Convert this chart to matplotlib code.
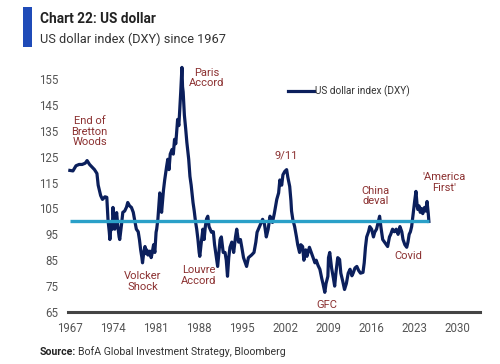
import matplotlib
matplotlib.use("Agg")
import matplotlib.pyplot as plt
from matplotlib.patches import Rectangle

plt.rcParams['font.family'] = ['Roboto', 'DejaVu Sans']

# ---- data ----
years = [
    1967.0, 1967.5, 1968.0, 1968.5, 1969.0, 1969.5, 1969.8, 1970.2, 1970.6, 1971.0,
    1971.4, 1971.6, 1971.8, 1972.0, 1972.3, 1972.7, 1973.0, 1973.2, 1973.4, 1973.5,
    1973.7, 1973.9, 1974.0, 1974.2, 1974.3, 1974.5, 1974.6, 1974.8, 1975.0, 1975.1,
    1975.3, 1975.4, 1975.6, 1975.9, 1976.2, 1976.4, 1976.7, 1977.0, 1977.3, 1977.5,
    1977.8, 1978.1, 1978.3, 1978.5, 1978.7, 1978.8, 1979.0, 1979.2, 1979.4, 1979.5,
    1979.7, 1980.0, 1980.2, 1980.3, 1980.6, 1980.8, 1981.0, 1981.1, 1981.3, 1981.5,
    1981.6, 1981.8, 1981.9, 1982.2, 1982.4, 1982.7, 1982.9, 1983.1, 1983.3, 1983.6,
    1983.8, 1984.0, 1984.2, 1984.5, 1984.7, 1985.0, 1985.2, 1985.3, 1985.4, 1985.6,
    1985.8, 1986.0, 1986.3, 1986.5, 1986.7, 1987.0, 1987.2, 1987.4, 1987.6, 1987.8,
    1988.0, 1988.1, 1988.3, 1988.5, 1988.6, 1988.8, 1989.0, 1989.2, 1989.4, 1989.6,
    1990.0, 1990.3, 1990.5, 1990.8, 1991.0, 1991.2, 1991.4, 1991.6, 1991.9, 1992.2,
    1992.4, 1992.6, 1992.8, 1993.0, 1993.3, 1993.6, 1993.9, 1994.1, 1994.4, 1994.7,
    1994.9, 1995.2, 1995.5, 1995.7, 1996.0, 1996.5, 1996.9, 1997.2, 1997.4, 1997.8,
    1998.0, 1998.3, 1998.6, 1998.9, 1999.2, 1999.5, 1999.7, 1999.9, 2000.2, 2000.6,
    2000.9, 2001.1, 2001.4, 2001.6, 2001.9, 2002.2, 2002.4, 2002.7, 2002.9, 2003.0,
    2003.2, 2003.5, 2003.8, 2004.0, 2004.3, 2004.5, 2004.8, 2005.0, 2005.3, 2005.5,
    2005.9, 2006.2, 2006.5, 2006.8, 2007.0, 2007.3, 2007.6, 2007.9, 2008.1, 2008.4,
    2008.6, 2008.9, 2009.0, 2009.2, 2009.5, 2009.8, 2010.0, 2010.2, 2010.5, 2010.8,
    2011.0, 2011.3, 2011.6, 2011.9, 2012.2, 2012.5, 2012.8, 2013.0, 2013.3, 2013.6,
    2013.9, 2014.2, 2014.6, 2014.8, 2015.0, 2015.2, 2015.5, 2015.7, 2016.0, 2016.3,
    2016.5, 2016.8, 2017.1, 2017.3, 2017.5, 2017.8, 2018.1, 2018.4, 2018.6, 2018.9,
    2019.1, 2019.4, 2019.7, 2020.0, 2020.3, 2020.6, 2020.9, 2021.1, 2021.4, 2021.7,
    2021.9, 2022.1, 2022.3, 2022.5, 2022.8, 2023.0, 2023.2, 2023.4, 2023.5, 2023.7,
    2023.9, 2024.1, 2024.3, 2024.6, 2024.8, 2025.0, 2025.2, 2025.3,
]
dxy = [
    119.7, 119.5, 121.5, 122.0, 122.0, 122.5, 123.5, 122.0, 121.0, 120.0,
    118.5, 114.0, 112.0, 110.0, 108.5, 109.5, 109.3, 100.5, 96.0, 93.0,
    99.0, 97.0, 105.4, 99.0, 97.0, 102.0, 103.4, 98.0, 94.0, 93.0,
    97.0, 99.0, 103.5, 104.0, 105.5, 107.3, 106.0, 105.4, 103.5, 100.8,
    97.0, 96.0, 93.0, 89.0, 86.0, 84.0, 88.0, 90.3, 87.5, 89.0,
    87.0, 88.5, 86.0, 87.0, 91.0, 88.0, 95.8, 97.0, 101.0, 108.0,
    111.0, 105.0, 103.5, 112.0, 116.0, 121.0, 124.0, 120.0, 126.0, 127.8,
    126.0, 131.7, 130.0, 139.4, 137.0, 149.8, 159.5, 152.0, 150.0, 141.0,
    136.0, 130.5, 124.0, 117.4, 114.0, 107.3, 104.0, 100.0, 97.0, 93.0,
    88.0, 86.5, 91.0, 95.0, 97.0, 93.0, 98.0, 101.0, 102.0, 98.0,
    95.8, 96.0, 91.0, 86.0, 82.6, 88.0, 93.0, 94.0, 88.0, 88.0,
    85.0, 78.8, 86.0, 90.0, 92.0, 88.0, 94.0, 97.0, 92.0, 93.0,
    90.3, 86.0, 84.0, 82.6, 86.0, 87.0, 88.0, 92.0, 95.8, 98.0,
    99.0, 100.8, 99.0, 94.0, 97.0, 102.0, 101.0, 99.6, 103.0, 108.5,
    111.0, 116.0, 114.0, 118.0, 119.3, 120.0, 117.0, 113.5, 108.0, 104.0,
    100.8, 98.0, 94.0, 91.0, 88.0, 91.0, 90.3, 85.0, 89.0, 86.5,
    90.0, 88.0, 86.0, 84.0, 85.0, 83.0, 81.5, 78.0, 76.0, 72.6,
    76.0, 78.8, 86.0, 88.0, 82.0, 78.0, 75.0, 80.0, 86.0, 85.3,
    80.0, 77.0, 73.7, 76.0, 80.0, 81.5, 79.0, 80.0, 82.0, 82.6,
    81.0, 80.0, 80.3, 84.0, 90.0, 94.0, 96.0, 98.0, 97.0, 94.0,
    95.8, 97.0, 100.0, 102.0, 98.0, 93.0, 92.0, 91.0, 90.3, 94.0,
    95.0, 97.0, 96.0, 97.0, 95.0, 98.0, 96.0, 93.0, 91.0, 90.0,
    92.0, 95.0, 96.0, 98.0, 104.0, 108.0, 111.6, 106.0, 104.6, 106.0,
    103.5, 105.0, 103.0, 105.4, 104.0, 107.7, 103.0, 100.0,
]
reference_level = 100

x_ticks = [1967, 1974, 1981, 1988, 1995, 2002, 2009, 2016, 2023, 2030]
y_ticks = [65, 75, 85, 95, 105, 115, 125, 135, 145, 155]

events = ["End of\nBretton\nWoods", "Paris\nAccord", "Volcker\nShock", "Louvre\nAccord",
          "9/11", "China\ndeval", "'America\nFirst'", "Covid", "GFC"]
event_x = [1970.2, 1989.2, 1978.85, 1987.9, 2002.2, 2016.7, 2027.7, 2021.9, 2008.7]
event_y = [134.7, 155.4, 76.8, 79.0, 125.5, 109.8, 114.9, 86.5, 67.6]

title = "Chart 22: US dollar"
subtitle = "US dollar index (DXY) since 1967"
series_label = "US dollar index (DXY)"

# ---- figure ----
W, H = 500, 364
fig = plt.figure(figsize=(5.0, 3.64), dpi=100)
fig.patch.set_facecolor("white")

ax = fig.add_axes([68 / W, 1 - 312 / H, (480 - 68) / W, (312 - 63.5) / H])
ax.set_xlim(1966.7, 2033.6)
ax.set_ylim(65, 161)

navy = "#0b1f5c"
cyan = "#2aa0c8"
red = "#8b3030"
grey = "#555555"

ax.plot(years, dxy, color=navy, lw=2.3, label=series_label, zorder=2, solid_joinstyle="round")
ax.hlines(reference_level, years[0], years[-1], color=cyan, lw=2.4, zorder=3)

for s in ["top", "right", "left"]:
    ax.spines[s].set_visible(False)
ax.spines["bottom"].set_color("#444444")
ax.spines["bottom"].set_linewidth(2.2)

ax.set_xticks(x_ticks)
ax.set_yticks(y_ticks)
ax.tick_params(axis="both", length=0, labelsize=8.3, labelcolor=grey)
ax.tick_params(axis="x", pad=7)
ax.tick_params(axis="y", pad=7)

for t, xx, yy in zip(events, event_x, event_y):
    ax.text(xx, yy, t, ha="center", va="center", color=red, fontsize=8, linespacing=1.1)

fig.legend(loc="center left", bbox_to_anchor=(288 / W, 1 - 91 / H), frameon=False,
           borderpad=0, borderaxespad=0, handlelength=2.6, handletextpad=0.1,
           prop={"size": 7.2}, labelcolor="#333333")

# header
fig.patches.append(Rectangle((23 / W, 1 - 47 / H), 9 / W, 40 / H, transform=fig.transFigure,
                             facecolor="#1f4bb8", edgecolor="none"))
fig.text(40 / W, 1 - 19 / H, title, fontsize=9.8, fontweight="bold", color="#222222",
         va="center", ha="left")
fig.text(40 / W, 1 - 39 / H, subtitle, fontsize=9.2, color="#333333", va="center", ha="left")

# source
t1 = fig.text(40 / W, 1 - 352 / H, "Source:", fontsize=7.6, fontweight="bold", color="#222222",
              va="center", ha="left")
fig.canvas.draw()
bb = t1.get_window_extent()
fig.text(bb.x1 / W + 2 / W, 1 - 352 / H, "BofA Global Investment Strategy, Bloomberg",
         fontsize=7.6, color="#333333", va="center", ha="left")

fig.savefig("out.png", dpi=100)
